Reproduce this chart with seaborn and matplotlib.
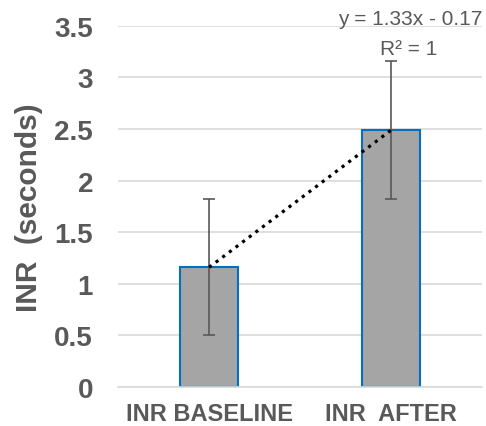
import numpy as np
import pandas as pd
import matplotlib
matplotlib.use("Agg")
import matplotlib.pyplot as plt
import seaborn as sns

categories = ["INR BASELINE", "INR  AFTER"]
values = [1.16, 2.49]
errors = [0.66, 0.67]
y_ticks = [0, 0.5, 1, 1.5, 2, 2.5, 3, 3.5]
y_tick_labels = ["0", "0.5", "1", "1.5", "2", "2.5", "3", "3.5"]

sns.set_theme(style="white")
plt.rcParams['font.family'] = ['Liberation Sans', 'DejaVu Sans']

df = pd.DataFrame({"cat": categories, "val": values})

fig = plt.figure(figsize=(4.86, 4.27), dpi=100)
ax = fig.add_axes([0.243, 0.0913, 0.749, 0.8457])

sns.barplot(data=df, x="cat", y="val", ax=ax, color="#A5A5A5", width=0.32,
            errorbar=None, edgecolor="#0070C0", linewidth=1.5, saturation=1, zorder=2)

xs = np.arange(len(categories))
ax.errorbar(xs, values, yerr=errors, fmt="none", ecolor="#595959",
            elinewidth=1.2, capsize=4.5, capthick=1.2, zorder=3)

# linear trendline (Excel x = 1, 2)
xe = xs + 1
coef = np.polyfit(xe, values, 1)
ax.plot(xs, np.polyval(coef, xe), linestyle=(0, (1, 1.6)), color="black",
        linewidth=2.3, zorder=4)

ax.set_ylim(0, 3.5)
ax.set_xlim(-0.5, 1.5)
ax.set_yticks(y_ticks)
ax.set_yticklabels(y_tick_labels)
ax.yaxis.grid(True, color="#D9D9D9", linewidth=1.2, zorder=0)
ax.set_axisbelow(True)
for s in ["left", "right", "top"]:
    ax.spines[s].set_visible(False)
ax.spines["bottom"].set_color("#D9D9D9")
ax.spines["bottom"].set_linewidth(1.2)
ax.tick_params(axis="y", length=0, pad=18, labelsize=20, labelcolor="#595959")
ax.tick_params(axis="x", length=0, pad=11, labelsize=17, labelcolor="#595959")
for lab in ax.get_yticklabels() + ax.get_xticklabels():
    lab.set_fontweight("bold")
ax.set_xlabel("")
ax.set_ylabel("INR  (seconds)", fontsize=21.5, fontweight="bold", color="#595959", labelpad=8)

ax.text(1.0, 1.0055, "y = 1.33x - 0.17", transform=ax.transAxes, ha="right", va="baseline",
        fontsize=15, color="#595959")
ax.text(0.797, 0.922, "R² = 1", transform=ax.transAxes, ha="center", va="baseline",
        fontsize=15, color="#595959")

fig.savefig("out.png", dpi=100)
